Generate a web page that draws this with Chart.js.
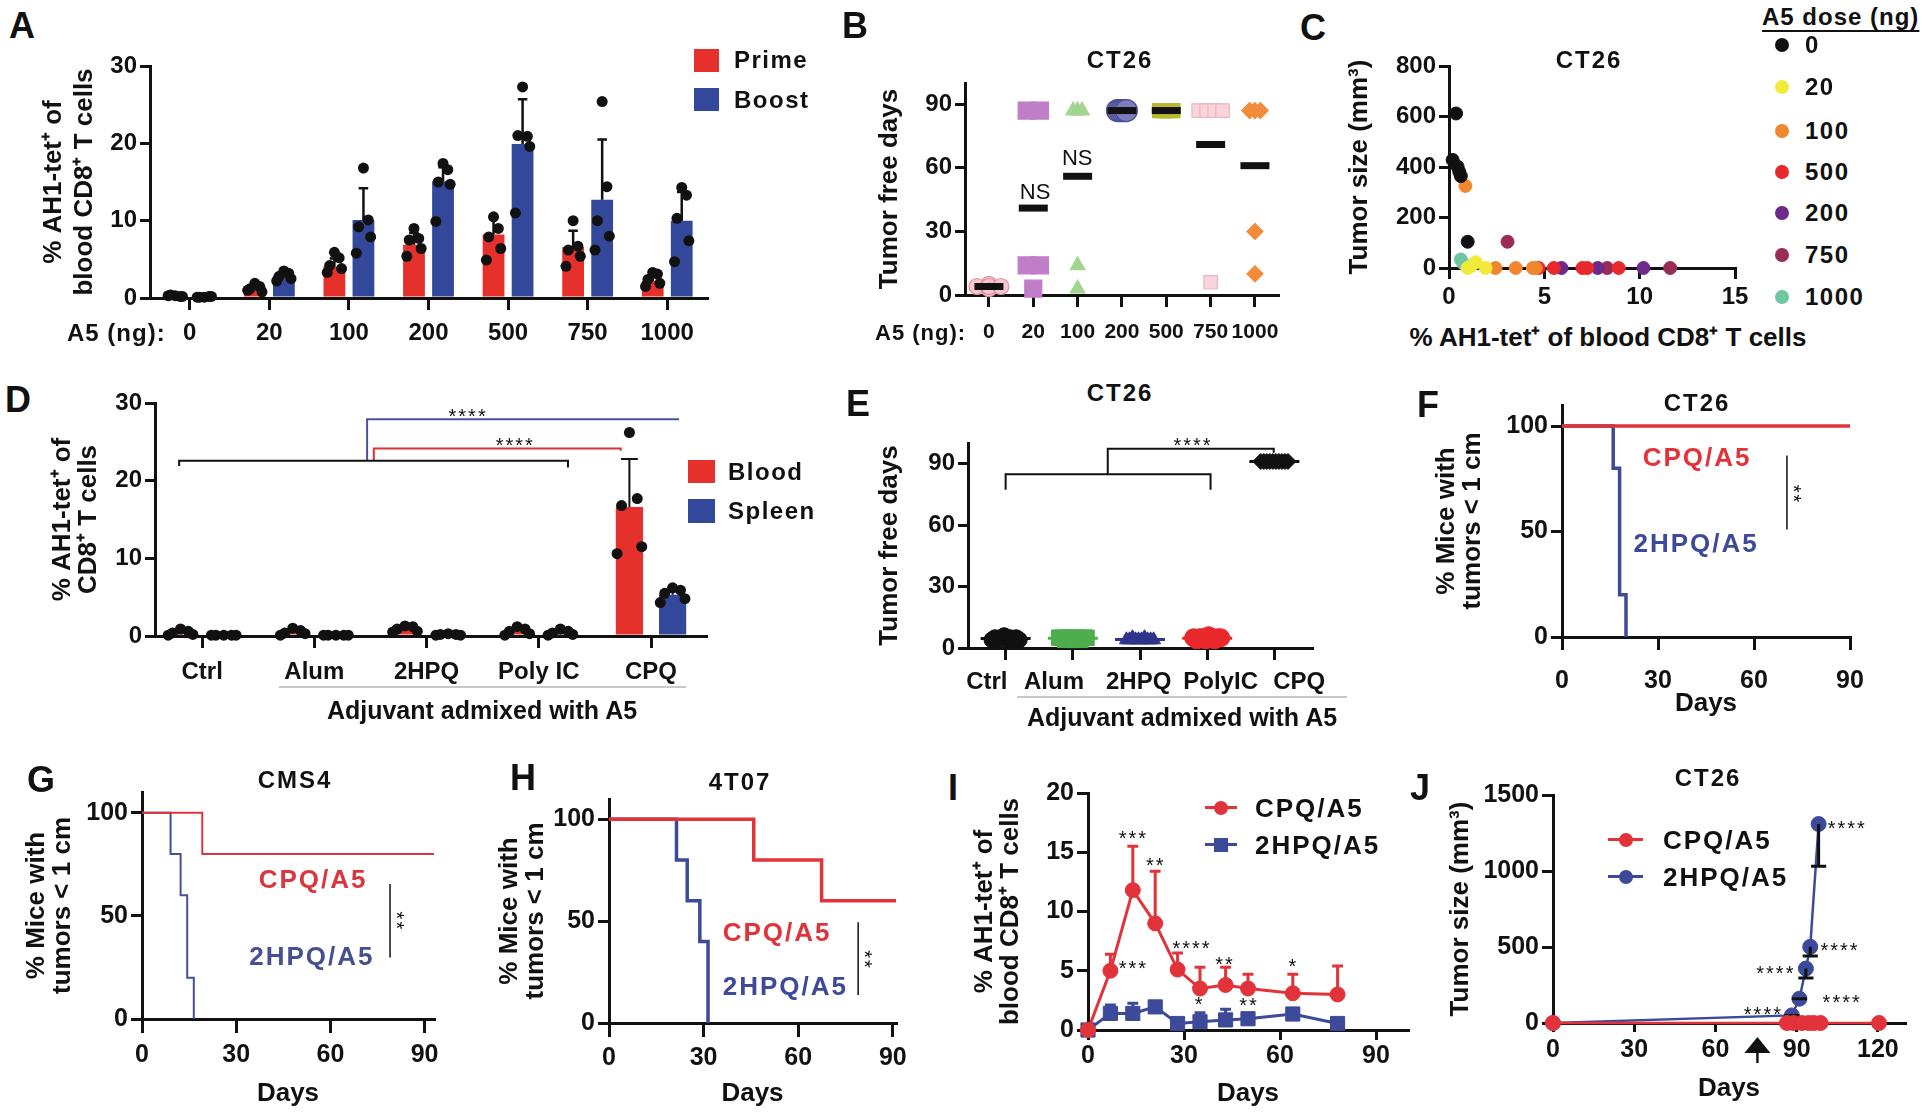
<!DOCTYPE html>
<html><head><meta charset="utf-8"><title>Figure</title>
<script src="https://cdn.jsdelivr.net/npm/chart.js@4.4.1/dist/chart.umd.min.js"></script>
<style>
html,body{margin:0;padding:0;background:#fff;}
body{position:relative;width:1927px;height:1114px;overflow:hidden;font-family:"Liberation Sans",Arial,Helvetica,sans-serif;}
canvas{position:absolute;}
.t{position:absolute;white-space:nowrap;line-height:1;font-weight:bold;color:#111;}
</style></head><body>
<script>
// ================= DATA =================
// Panel A
const doseLabels=['0','20','100','200','500','750','1000'];
const primeMean=[0.3,1.5,4.1,6.9,8.2,6.6,2.2];
const primeSD=[0.1,0.4,1.0,1.5,2.2,2.1,0.8];
const boostMean=[0.2,2.9,10.1,15.1,19.9,12.7,10.0];
const boostSD=[0.1,0.5,4.1,1.8,5.8,7.8,3.7];
const primePts=[[0.3,0.2,0.4,0.2,0.3],[1.9,1.5,1.2,0.8,1.0],[5.9,5.2,4.2,3.8,3.3],[9.0,7.7,7.5,6.4,5.4],[10.5,9.0,7.9,6.4,4.9],[10.0,6.7,6.2,5.4,4.1],[3.3,3.1,2.4,1.9,1.5]];
const boostPts=[[0.1,0.2,0.1,0.2,0.1],[3.5,3.2,2.8,2.5,2.2],[16.8,10.1,9.2,7.9,5.8],[17.4,16.6,15.0,14.7,9.9],[27.3,20.9,21.0,19.6,11.0],[25.4,14.4,10.0,8.0,6.2],[14.3,13.3,10.3,7.4,4.7]];
// Panel B
const bDays=[[4,3,5,4,4],[87,87,14,14,3],[87,87,87,14,3],[87,87,87,87,87],[87,87,87,87,87],[87,87,87,87,6],[87,87,87,30,10]];
const bMean=[4,41,56,87,87,71,61];
const bNS=[{g:1.04,y:48.2,t:'NS'},{g:1.99,y:64,t:'NS'}];
// Panel C
const cDoses=['0','20','100','500','200','750','1000'];
const cTet=[[0.19,0.37,0.45,0.54,0.62,0.98],[0.98,1.4,1.92,1.15],[0.86,2.44,3.5,4.4,4.55],[4.7,5.5,7.0,7.25,8.9],[5.9,7.8,10.2],[3.07,8.3,11.6],[0.62,0.75]];
const cSize=[[428,612,401,381,364,104],[0,23,0,8],[325,0,0,0,0],[0,0,0,0,0],[0,0,0],[104,0,0],[34,18]];
// Panel D
const dGroups=['Ctrl','Alum','2HPQ','Poly IC','CPQ'];
const bloodMean=[0.4,0.5,0.9,0.6,16.6];
const bloodSD=[0.3,0.3,0.3,0.4,6.2];
const spleenMean=[0.1,0.1,0.2,0.4,5.3];
const spleenSD=[0.05,0.05,0.1,0.3,0.7];
const bloodPts=[[0.9,0.6,0.4,0.2,0.1],[1.0,0.7,0.4,0.3,0.1],[1.3,1.2,0.9,0.6,0.5],[1.2,0.9,0.6,0.3,0.1],[26.2,17.7,16.8,11.5,10.6]];
const spleenPts=[[0.1,0.1,0.1,0.1,0.1],[0.1,0.1,0.1,0.1,0.1],[0.3,0.2,0.2,0.1,0.1],[0.9,0.6,0.4,0.2,0.1],[6.2,5.9,5.5,4.8,4.3]];
const dBracketBlack=[[-0.205,21.9],[-0.205,22.55],[3.26,22.55],[3.26,21.7]];
const dBracketRed=[[1.53,22.55],[1.53,24.15],[3.73,24.15],[3.73,23.85]];
const dBracketBlue=[[1.47,22.55],[1.47,27.9],[4.25,27.9]];
const dStars=[{x:2.79,y:25.0,t:'****'},{x:2.37,y:28.8,t:'****'}];
// Panel E
const eGroups=['Ctrl','Alum','2HPQ','PolyIC','CPQ'];
const eLabelPos=[-0.28,0.72,1.98,3.2,4.37];
const eDays=[[4,5,4,5,6,4,5,4,5,4],[5,5,4,5,5,4,5,4,5,5],[4,4,5,4,4,4,5,4,4,4],[5,4,5,5,4,6,5,4,5,5],[91,91,91,91,91,91,91,91,91,91]];
const eMean=[4.6,4.7,4.2,4.8,91];
const eBracket1=[[0,77.2],[0,84.7],[3.05,84.7],[3.05,77.2]];
const eBracket2=[[1.52,84.7],[1.52,97.2],[3.99,97.2],[3.99,95.2]];
const eStars=[{x:2.79,y:100.6,t:'****'}];
// Panel F (CT26)
const fCpqDays=[0,90], fCpqPct=[100,100];
const f2hpqDays=[0,16,18,20], f2hpqPct=[100,80,20,0];
const fSig=[[70.3,86],[70.3,51]];
// Panel G (CMS4)
const gCpqDays=[0,19.2,93], gCpqPct=[100,80,80];
const g2hpqDays=[0,9.1,12.3,14.4,16.5], g2hpqPct=[100,80,60,20,0];
const gSig=[[79,65.4],[79,29.8]];
// Panel H (4T07)
const hCpqDays=[0,45.9,67.4,91], hCpqPct=[100,80,60,60];
const h2hpqDays=[0,21.4,24.8,28.8,31.4], h2hpqPct=[100,80,60,40,0];
const hSig=[[79,49.5],[79,13.7]];
// Panel I
const iDays=[0,7,14,21,28,35,43,50,64,78];
const iCpq=[0,5.0,11.8,9.0,5.1,3.5,3.8,3.5,3.1,3.0];
const iCpqSD=[0,1.4,3.7,4.4,1.4,1.8,1.5,1.2,1.6,2.4];
const i2hpq=[0,1.4,1.4,1.95,0.55,0.7,0.85,0.95,1.35,0.55];
const i2hpqSD=[0,0.7,0.85,0.3,0.15,0.75,0.9,0.15,0.3,0.15];
const iStars=[{x:14.2,y:16.5,t:'***'},{x:21.2,y:14.2,t:'**'},{x:32.5,y:7.2,t:'****'},{x:14.2,y:5.5,t:'***'},{x:42.8,y:5.9,t:'**'},{x:64.2,y:5.7,t:'*'},{x:34.9,y:2.5,t:'*'},{x:50.3,y:2.4,t:'**'}];
// Panel J
const jCpqDays=[0,86.4,88.8,91.9,94.4,96.3,98.8,120.4];
const jCpqSize=[0,0,0,0,0,0,0,0];
const j2hpqDays=[0,88.2,91,93.4,95,98.1];
const j2hpqSize=[0,50,160,358,501,1309];
const j2hpqSD=[0,0,0,62,60,277];
const jStars=[{x:108.7,y:1309,t:'****'},{x:106,y:501,t:'****'},{x:82.3,y:351,t:'****'},{x:106.8,y:160,t:'****'},{x:77.7,y:83,t:'****'}];
const jArrowDay=75.5;

// ================= HELPERS =================
const FONT='"Liberation Sans", Arial, Helvetica, sans-serif';
const K='#111111';
const RED='#e6302b', BLUE='#33489a';
const LRED='#e2323a', LBLUE='#3c4a99';
Chart.defaults.font.family=FONT;
Chart.defaults.color=K;

function T(s,x,y,o){o=o||{};const d=document.createElement('div');d.className='t';d.textContent=s;
  d.style.fontSize=(o.s||24)+'px';d.style.color=o.c||K;
  if(o.ls)d.style.letterSpacing=o.ls+'px';
  if(o.w)d.style.fontWeight=o.w;
  if(o.ul){d.style.textDecoration='underline';d.style.textUnderlineOffset='5px';d.style.textDecorationThickness='2px';}
  d.style.left=x+'px';d.style.top=y+'px';
  let tr=o.a==='tl'?'':(o.a==='l'?'translate(0,-50%)':'translate(-50%,-50%)');
  if(o.r)tr+=' rotate('+o.r+'deg)';
  d.style.transform=tr;
  document.body.appendChild(d);return d;}
function LET(s,x,capTop){T(s,x,capTop-4.7,{s:36,a:'tl'});}
function R(x,y,w,h,c,extra){const d=document.createElement('div');
  d.style.cssText='position:absolute;left:'+x+'px;top:'+y+'px;width:'+w+'px;height:'+h+'px;background:'+c+';'+(extra||'');
  document.body.appendChild(d);}

function textPlugin(items,extra){return {id:'txt',afterDraw(chart){
  const ctx=chart.ctx,xs=chart.scales.x,ys=chart.scales.y;
  items.forEach(it=>{ctx.save();
    ctx.font=(it.w||'bold')+' '+(it.s||24)+'px '+FONT;ctx.fillStyle=it.c||K;
    ctx.textAlign='center';ctx.textBaseline='middle';
    try{ctx.letterSpacing=(it.ls||0)+'px';}catch(e){}
    ctx.translate(xs.getPixelForValue(it.x),ys.getPixelForValue(it.y));
    if(it.r)ctx.rotate(it.r);
    ctx.fillText(it.t,0,it.dy||0);ctx.restore();});
  if(extra)extra(chart);
}};}
const star=(o)=>Object.assign({s:20,w:'normal',ls:2,dy:5},o);

function yScale(box,area,o){return {
  type:'linear',position:'left',min:o.min,max:o.max,
  afterBuildTicks:sc=>{sc.ticks=o.ticks.map(v=>({value:v}));},
  afterFit:sc=>{sc.width=area.x0-box.x;},
  border:{display:true,color:K,width:3},
  grid:{display:true,drawOnChartArea:false,drawTicks:true,tickLength:o.tl||11,color:K,lineWidth:3},
  ticks:{font:{size:o.fs||24,weight:'bold'},color:K,padding:o.pad==null?3:o.pad,callback:(v)=>String(v)},
  title:{display:!!o.title,text:o.title||'',font:{size:26,weight:'bold',lineHeight:o.lh||1.2},color:K,padding:0}
};}
function xScale(box,area,o){const s={
  type:'linear',position:'bottom',min:o.min,max:o.max,offset:false,weight:o.weight||0,
  afterBuildTicks:sc=>{sc.ticks=o.ticks.map(v=>({value:v}));},
  afterFit:sc=>{sc.height=(o.h!=null)?o.h:(box.b-area.y1);},
  border:{display:o.noLine?false:true,color:K,width:3},
  grid:{display:!o.noLine,offset:false,drawOnChartArea:false,drawTicks:!o.noLine,tickLength:o.tl||12,color:K,lineWidth:3},
  ticks:{font:{size:o.fs||24,weight:'bold'},color:K,padding:o.pad||0,autoSkip:false,maxRotation:0,minRotation:0,
    callback:(v,i)=>o.labels?o.labels[i]:String(v)},
  title:{display:!!o.title,text:o.title||'',font:{size:26,weight:'bold',lineHeight:1.2},color:K,padding:0}
};return s;}

function makeChart(box,area,type,datasets,scales,plugins){
  const cv=document.createElement('canvas');const w=box.r-box.x,h=box.b-box.y;
  cv.width=w;cv.height=h;cv.style.left=box.x+'px';cv.style.top=box.y+'px';cv.style.width=w+'px';cv.style.height=h+'px';
  document.body.appendChild(cv);
  datasets.forEach(d=>{if(d.clip===undefined)d.clip=false;});
  return new Chart(cv,{type,data:{datasets},options:{
    responsive:false,animation:false,devicePixelRatio:1,
    layout:{padding:{left:0,top:area.y0-box.y,right:box.r-area.x1,bottom:0}},
    plugins:{legend:{display:false},tooltip:{enabled:false}},
    scales},plugins:plugins||[]});
}
function errLines(xs,base,top,cap){const d=[];xs.forEach((x,i)=>{
  d.push({x,y:base[i]},{x,y:top[i]},{x,y:null},{x:x-cap,y:top[i]},{x:x+cap,y:top[i]},{x,y:null});});return d;}
function dots(pts,off,jit){return pts.flatMap((arr,g)=>arr.map((y,k)=>({x:g+off+jit[k%jit.length],y})));}
function pairs(arr){return arr.map(p=>({x:p[0],y:p[1]}));}
function km(days,pct){return days.map((x,i)=>({x,y:pct[i]}));}
function spreadEq(vals,width){const cnt={},seen={};vals.forEach(v=>cnt[v]=(cnt[v]||0)+1);
  return vals.map(v=>{const n=cnt[v];const k=(seen[v]=(seen[v]||0)+1)-1;return n>1?(k-(n-1)/2)*(2*width/(n-1)):0;});}
function spreadAll(n,step){return Array.from({length:n},(_,k)=>(k-(n-1)/2)*step);}
const lineDS=(data,color,wd,order)=>({type:'line',data,borderColor:color,borderWidth:wd,pointRadius:0,fill:false,tension:0,order:order==null?1:order,spanGaps:false});

// ================= PANEL A =================
(function(){
  const box={x:38,y:20,r:730,b:350},area={x0:150,x1:707,y0:66,y1:298};
  const cp=0.73,off=cp/4,jit=[0,0.06,-0.06,0.09,-0.09];
  const xs=doseLabels.map((_,i)=>i);
  makeChart(box,area,'bar',[
    {type:'scatter',data:dots(primePts,-off,jit),pointRadius:5.5,pointBackgroundColor:K,pointBorderWidth:0,order:0},
    {type:'scatter',data:dots(boostPts,off,jit),pointRadius:5.5,pointBackgroundColor:K,pointBorderWidth:0,order:0},
    lineDS(errLines(xs.map(x=>x-off),primeMean,primeMean.map((m,i)=>m+primeSD[i]),0.06),K,2.5,1),
    lineDS(errLines(xs.map(x=>x+off),boostMean,boostMean.map((m,i)=>m+boostSD[i]),0.06),K,2.5,1),
    {type:'bar',label:'Prime',data:primeMean.map((y,i)=>({x:i,y})),backgroundColor:RED,categoryPercentage:cp,barPercentage:0.75,order:2},
    {type:'bar',label:'Boost',data:boostMean.map((y,i)=>({x:i,y})),backgroundColor:BLUE,categoryPercentage:cp,barPercentage:0.75,order:2}
  ],{
    x:xScale(box,area,{min:-0.5,max:6.5,ticks:xs,labels:doseLabels,tl:12,pad:8.6}),
    y:yScale(box,area,{min:0,max:30,ticks:[0,10,20,30],tl:10,pad:3,title:['% AH1-tet\u207A of','blood CD8\u207A T cells']})
  });
  LET('A',9,13);
  T('A5 (ng):',67,333,{a:'l',ls:1});
  R(694,49,25,23,RED);T('Prime',734,60,{a:'l',ls:1.5});
  R(694,88,25,23,BLUE);T('Boost',734,100,{a:'l',ls:1.5});
})();

// ================= PANEL B =================
(function(){
  const box={x:874,y:50,r:1300,b:350},area={x0:965,x1:1278,y0:83,y1:295};
  const style=['circle','rect','triangle','circle','rect','rect','rectRot'];
  const rad=[8,12,8.5,11,10,9.5,8];
  const fill=['#f7c6ce','#c07dc8','#a3d491','#7c7cbc','#b9b92c','#fbd3da','#f38b3a'];
  const edge=['#e0909c','#c07dc8','#a3d491','#4d4f96','#b9b92c','#e9b7bf','#f38b3a'];
  const spr=[0.27,0.15,0.1,0.1,0.15,0.27,0.12];
  const ds=[{type:'scatter',data:bMean.map((y,i)=>({x:i,y})),pointStyle:'line',pointRadius:14.5,pointBorderWidth:7,pointBorderColor:K,order:0}];
  bDays.forEach((vals,g)=>{const o=spreadEq(vals,spr[g]);
    ds.push({type:'scatter',data:vals.map((y,k)=>({x:g+o[k],y})),pointStyle:style[g],pointRadius:rad[g],
      pointBackgroundColor:fill[g],pointBorderColor:edge[g],pointBorderWidth:1.2,order:1});});
  makeChart(box,area,'scatter',ds,{
    x:xScale(box,area,{min:-0.54,max:6.52,ticks:[0,1,2,3,4,5,6],labels:doseLabels,tl:12,pad:13,fs:21}),
    y:yScale(box,area,{min:0,max:100,ticks:[0,30,60,90],tl:10,title:'Tumor free days'})
  },[textPlugin(bNS.map(n=>({x:n.g,y:n.y,t:n.t,s:22,w:'normal'})))]);
  LET('B',842,13);
  T('A5 (ng):',875,333,{a:'l',s:22,ls:1});
  T('CT26',1120,60,{ls:2});
})();

// ================= PANEL C =================
(function(){
  const box={x:1344,y:30,r:1760,b:320},area={x0:1449,x1:1735,y0:66,y1:268};
  const col=['#111111','#f2ea3a','#f0872f','#e8292b','#6b2a8c','#9a2b57','#6fc7a2'];
  const ds=cTet.map((xs,g)=>({type:'scatter',data:xs.map((x,k)=>({x,y:cSize[g][k]})),pointRadius:6.5,
    pointBackgroundColor:col[g],pointBorderColor:col[g],pointBorderWidth:1,order:g}));
  makeChart(box,area,'scatter',ds,{
    x:xScale(box,area,{min:0,max:15,ticks:[0,5,10,15],tl:11,pad:3.6}),
    y:yScale(box,area,{min:0,max:800,ticks:[0,200,400,600,800],tl:10,title:'Tumor size (mm\u00B3)'})
  });
  LET('C',1300,15);
  T('CT26',1589,60,{ls:2});
  T('% AH1-tet\u207A of blood CD8\u207A T cells',1608,337,{s:26});
  T('A5 dose (ng)',1762,17,{a:'l',ul:true,ls:1});
  const ly=[45,87,131,172,213,255,297];
  cDoses.forEach((d,g)=>{R(1775,ly[g]-7,14,14,col[g],'border-radius:50%;');T(d,1805,ly[g],{a:'l',ls:1.5});});
})();

// ================= PANEL D =================
(function(){
  const box={x:50,y:380,r:730,b:700},area={x0:155,x1:706,y0:403,y1:636};
  const cp=0.77,off=cp/4,jit=[0,0.07,-0.07,0.11,-0.11];
  const xs=dGroups.map((_,i)=>i);
  const DRED='#d8343a',DBLUE='#4a5599';
  makeChart(box,area,'bar',[
    {type:'scatter',data:dots(bloodPts,-off,jit),pointRadius:5.5,pointBackgroundColor:K,pointBorderWidth:0,order:0},
    {type:'scatter',data:dots(spleenPts,off,jit),pointRadius:5.5,pointBackgroundColor:K,pointBorderWidth:0,order:0},
    lineDS(errLines(xs.map(x=>x-off),bloodMean,bloodMean.map((m,i)=>m+bloodSD[i]),0.075),K,2,1),
    lineDS(errLines(xs.map(x=>x+off),spleenMean,spleenMean.map((m,i)=>m+spleenSD[i]),0.075),K,2,1),
    lineDS(pairs(dBracketBlack),K,2,1),
    lineDS(pairs(dBracketRed),DRED,2,1),
    lineDS(pairs(dBracketBlue),DBLUE,2,1),
    {type:'bar',label:'Blood',data:bloodMean.map((y,i)=>({x:i,y})),backgroundColor:RED,categoryPercentage:cp,barPercentage:0.63,order:2},
    {type:'bar',label:'Spleen',data:spleenMean.map((y,i)=>({x:i,y})),backgroundColor:BLUE,categoryPercentage:cp,barPercentage:0.63,order:2}
  ],{
    x:xScale(box,area,{min:-0.42,max:4.49,ticks:xs,labels:dGroups,tl:12,pad:9.6}),
    y:yScale(box,area,{min:0,max:30,ticks:[0,10,20,30],tl:10,lh:1.0,title:['% AH1-tet\u207A of','CD8\u207A T cells']})
  },[textPlugin(dStars.map(s=>star(s)))]);
  LET('D',5,387);
  R(688,460,27,23,RED);T('Blood',728,472,{a:'l',ls:1.5});
  R(688,499,27,24,BLUE);T('Spleen',728,511,{a:'l',ls:1.5});
  R(279,686,407,2,'#c8c8c8');
  T('Adjuvant admixed with A5',482,710,{s:25});
})();

// ================= PANEL E =================
(function(){
  const box={x:874,y:415,r:1340,b:700},area={x0:968,x1:1315,y0:435,y1:648};
  const style=['circle','rect','triangle','circle','rectRot'];
  const rad=[8,11,8,9,8];
  const col=['#111111','#4cae4c','#2f338a','#e8282a','#111111'];
  const ds=[];
  eDays.forEach((vals,g)=>{const o=spreadAll(vals.length,0.045);
    ds.push({type:'scatter',data:vals.map((y,k)=>({x:g+o[k],y})),pointStyle:style[g],pointRadius:rad[g],
      pointBackgroundColor:col[g],pointBorderColor:col[g],pointBorderWidth:1,order:1});});
  ds.push({type:'scatter',data:eMean.map((y,i)=>({x:i,y})),pointStyle:'line',pointRadius:25,pointBorderWidth:3,
    pointBorderColor:col,order:2});
  ds.push(lineDS(pairs(eBracket1),K,2,0));
  ds.push(lineDS(pairs(eBracket2),K,2,0));
  makeChart(box,area,'scatter',ds,{
    x:xScale(box,area,{min:-0.56,max:4.56,ticks:[0,1,2,3,4],labels:['','','','',''],tl:12,h:12}),
    xl:xScale(box,area,{min:-0.56,max:4.56,ticks:eLabelPos,labels:eGroups,noLine:true,pad:7.6,h:40,weight:1}),
    y:yScale(box,area,{min:0,max:100,ticks:[0,30,60,90],tl:10,title:'Tumor free days'})
  },[textPlugin(eStars.map(s=>star(s)))]);
  LET('E',846,391);
  T('CT26',1120,393,{ls:2});
  R(1017,696,330,2,'#c8c8c8');
  T('Adjuvant admixed with A5',1182,717,{s:25});
})();

// ================= KM PANELS F, G, H =================
function kmPanel(box,area,xmax,cpq,hpq,sig,lw,labels,title,titlePos,letter,letterPos,tc){
  const ds=[
    Object.assign(lineDS(cpq,tc[0],lw[0],0),{stepped:true}),
    Object.assign(lineDS(hpq,tc[1],lw[1],1),{stepped:true}),
    lineDS(pairs(sig),K,1.5,2)
  ];
  makeChart(box,area,'scatter',ds,{
    x:xScale(box,area,{min:0,max:xmax,ticks:[0,30,60,90],tl:box.tl,pad:box.pad,fs:25,title:'Days'}),
    y:yScale(box,area,{min:0,max:110,ticks:[0,50,100],tl:11,fs:25,lh:1.0,title:['% Mice with','tumors < 1 cm']})
  },[textPlugin([
    {x:labels[0][0],y:labels[0][1],t:'CPQ/A5',c:tc[0],s:26,ls:2},
    {x:labels[1][0],y:labels[1][1],t:'2HPQ/A5',c:tc[1],s:26,ls:2},
    star({x:labels[2][0],y:labels[2][1],t:'**',r:Math.PI/2})
  ])]);
  LET(letter,letterPos[0],letterPos[1]);
  T(title,titlePos[0],titlePos[1],{ls:2});
}
kmPanel({x:1434,y:385,r:1890,b:719,tl:13,pad:16},{x0:1562,x1:1850,y0:405,y1:637},90,
  km(fCpqDays,fCpqPct),km(f2hpqDays,f2hpqPct),fSig,[3.5,3.5],[[42.2,84.3],[41.9,43.8],[73.75,67.6]],
  'CT26',[1697,403],'F',[1417,392],[LRED,LBLUE]);
kmPanel({x:24,y:770,r:470,b:1109,tl:14,pad:7},{x0:142,x1:434,y0:792,y1:1019},93,
  km(gCpqDays,gCpqPct),km(g2hpqDays,g2hpqPct),gSig,[2,2],[[54.5,66.8],[54.1,29.8],[82.2,47.3]],
  'CMS4',[295,780],'G',[27,767],['#d9363e','#454f92']);
kmPanel({x:497,y:775,r:930,b:1109,tl:14,pad:6},{x0:609,x1:896,y0:799,y1:1023},91,
  km(hCpqDays,hCpqPct),km(h2hpqDays,h2hpqPct),hSig,[3.5,3.5],[[53.3,44],[55.9,17.2],[82.2,30.9]],
  '4T07',[740,782],'H',[510,765],[LRED,LBLUE]);

// ================= PANEL I =================
(function(){
  const box={x:972,y:770,r:1430,b:1109},area={x0:1088,x1:1408,y0:793,y1:1030};
  const ds=[
    Object.assign(lineDS(km(iDays,iCpq),LRED,3,0),{pointRadius:7.5,pointStyle:'circle',pointBackgroundColor:LRED,pointBorderColor:LRED,pointBorderWidth:1}),
    lineDS(errLines(iDays,iCpq,iCpq.map((m,i)=>m+iCpqSD[i]),1.7),LRED,3,1),
    Object.assign(lineDS(km(iDays,i2hpq),LBLUE,3,2),{pointRadius:10,pointStyle:'rect',pointBackgroundColor:LBLUE,pointBorderColor:LBLUE,pointBorderWidth:1}),
    lineDS(errLines(iDays,i2hpq,i2hpq.map((m,i)=>m+i2hpqSD[i]),1.7),LBLUE,3,3)
  ];
  makeChart(box,area,'scatter',ds,{
    x:xScale(box,area,{min:0,max:100,ticks:[0,30,60,90],tl:10,pad:1.5,fs:25,title:'Days'}),
    y:yScale(box,area,{min:0,max:20,ticks:[0,5,10,15,20],tl:11,fs:25,lh:1.0,title:['% AH1-tet\u207A of','blood CD8\u207A T cells']})
  },[textPlugin(iStars.map(s=>star(s)))]);
  LET('I',948,775);
  R(1205,806,32,3,LRED);R(1214,801,14,14,LRED,'border-radius:50%;');T('CPQ/A5',1255,808,{a:'l',s:26,ls:2});
  R(1205,843,32,3,LBLUE);R(1214,838,14,14,LBLUE);T('2HPQ/A5',1255,845,{a:'l',s:26,ls:2});
})();

// ================= PANEL J =================
(function(){
  const box={x:1445,y:775,r:1925,b:1104},area={x0:1553,x1:1905,y0:795,y1:1023};
  const ds=[
    Object.assign(lineDS(km(jCpqDays,jCpqSize),LRED,2.5,0),{pointRadius:7.5,pointStyle:'circle',pointBackgroundColor:LRED,pointBorderColor:LRED,pointBorderWidth:1}),
    lineDS(errLines(j2hpqDays,j2hpqSize,j2hpqSize.map((m,i)=>m-j2hpqSD[i]),2.8),K,3,1),
    Object.assign(lineDS(km(j2hpqDays,j2hpqSize),LBLUE,2.5,2),{pointRadius:7.5,pointStyle:'circle',pointBackgroundColor:LBLUE,pointBorderColor:LBLUE,pointBorderWidth:1})
  ];
  const arrow=(chart)=>{const ctx=chart.ctx,a=chart.chartArea,px=chart.scales.x.getPixelForValue(jArrowDay);
    ctx.save();ctx.fillStyle=K;ctx.beginPath();ctx.moveTo(px,a.bottom+14);ctx.lineTo(px-13,a.bottom+30);ctx.lineTo(px+13,a.bottom+30);
    ctx.closePath();ctx.fill();ctx.fillRect(px-1.2,a.bottom+29,2.4,11);ctx.restore();};
  makeChart(box,area,'scatter',ds,{
    x:xScale(box,area,{min:0,max:130,ticks:[0,30,60,90,120],tl:9,pad:3,fs:25,title:'Days'}),
    y:yScale(box,area,{min:0,max:1500,ticks:[0,500,1000,1500],tl:11,fs:25,title:'Tumor size (mm\u00B3)'})
  },[textPlugin(jStars.map(s=>star(s)),arrow)]);
  LET('J',1410,775);
  T('CT26',1708,778,{ls:2});
  R(1608,838,35,3,LRED);R(1619,833,14,14,LRED,'border-radius:50%;');T('CPQ/A5',1663,840,{a:'l',s:26,ls:2});
  R(1608,875,35,3,LBLUE);R(1619,870,14,14,LBLUE,'border-radius:50%;');T('2HPQ/A5',1663,877,{a:'l',s:26,ls:2});
})();
</script>
</body></html>
